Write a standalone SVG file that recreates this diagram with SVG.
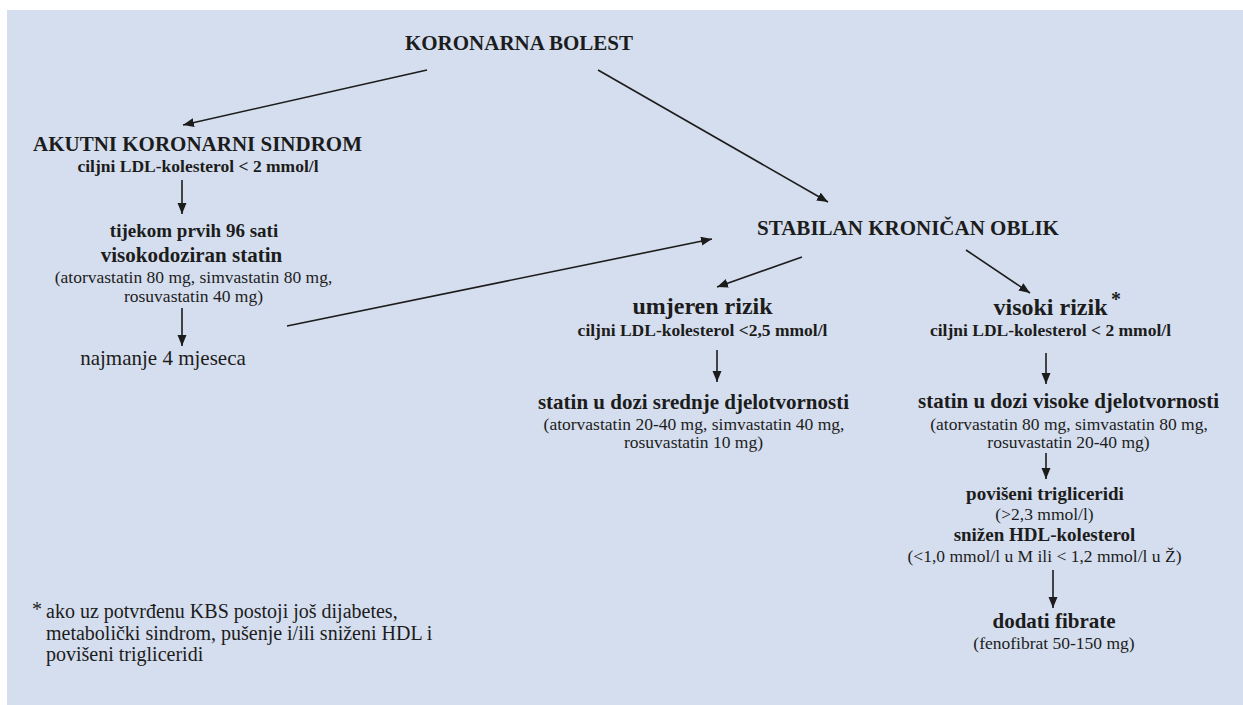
<svg xmlns="http://www.w3.org/2000/svg" width="1243" height="705" viewBox="0 0 1243 705">
  <style>
    text { font-family: "Liberation Serif", "Times New Roman", serif; fill: #1c1c1c; text-anchor: middle; }
    .b { font-weight: bold; }
    .h { font-size: 21px; font-weight: bold; }
    .hx { font-size: 24px; font-weight: bold; }
    .s { font-size: 17.5px; font-weight: bold; }
    .m { font-size: 19px; font-weight: bold; }
    .r { font-size: 17.5px; }
    .big { font-size: 21px; }
    .fn { font-size: 20px; text-anchor: start; }
    .conn line { stroke: #1c1c1c; stroke-width: 1.6; fill: none; marker-end: url(#ah); }
  </style>
  <defs>
    <marker id="ah" markerUnits="userSpaceOnUse" markerWidth="12" markerHeight="10" refX="11" refY="4.5" orient="auto">
      <path d="M0,0 L11,4.5 L0,9 z" fill="#1c1c1c"/>
    </marker>
  </defs>
  <rect x="0" y="0" width="1243" height="705" fill="#ffffff"/>
  <rect x="7" y="10" width="1236" height="695" fill="#d5deee"/>

  <g id="connectors" class="conn">
    <line x1="427" y1="70" x2="183" y2="125"/>
    <line x1="598" y1="70" x2="828" y2="202"/>
    <line x1="182" y1="180" x2="182" y2="214"/>
    <line x1="182" y1="308" x2="182" y2="346"/>
    <line x1="287" y1="326" x2="712" y2="239"/>
    <line x1="802" y1="257" x2="717" y2="287"/>
    <line x1="966" y1="250" x2="1030" y2="293"/>
    <line x1="717" y1="350" x2="717" y2="382"/>
    <line x1="1046" y1="353" x2="1046" y2="384"/>
    <line x1="1046" y1="453" x2="1046" y2="479"/>
    <line x1="1053" y1="570" x2="1053" y2="608"/>
  </g>

  <g id="koronarna-bolest">
    <text class="h" x="519" y="50">KORONARNA BOLEST</text>
  </g>

  <g id="akutni">
    <text class="h" x="197.5" y="151">AKUTNI KORONARNI SINDROM</text>
    <text class="s" x="198" y="172">ciljni LDL-kolesterol &lt; 2 mmol/l</text>
  </g>

  <g id="visokodoziran">
    <text class="m" x="194" y="237">tijekom prvih 96 sati</text>
    <text class="h" x="191.5" y="262">visokodoziran statin</text>
    <text class="r" x="193.5" y="283">(atorvastatin 80 mg, simvastatin 80 mg,</text>
    <text class="r" x="193.5" y="302">rosuvastatin 40 mg)</text>
  </g>

  <g id="najmanje">
    <text class="big" x="163" y="365">najmanje 4 mjeseca</text>
  </g>

  <g id="stabilan">
    <text class="h" x="908" y="235">STABILAN KRONIČAN OBLIK</text>
  </g>

  <g id="umjeren">
    <text class="hx" x="702.5" y="314">umjeren rizik</text>
    <text class="s" x="702.5" y="336">ciljni LDL-kolesterol &lt;2,5 mmol/l</text>
  </g>

  <g id="srednje">
    <text class="h" x="693.5" y="409">statin u dozi srednje djelotvornosti</text>
    <text class="r" x="694" y="430">(atorvastatin 20-40 mg, simvastatin 40 mg,</text>
    <text class="r" x="693.5" y="448">rosuvastatin 10 mg)</text>
  </g>

  <g id="visoki">
    <text class="hx" x="1050.5" y="315">visoki rizik</text>
    <text class="b" x="1116" y="306" style="font-size:20px">*</text>
    <text class="s" x="1050.5" y="336">ciljni LDL-kolesterol &lt; 2 mmol/l</text>
  </g>

  <g id="visoke">
    <text class="h" x="1068.5" y="408">statin u dozi visoke djelotvornosti</text>
    <text class="r" x="1069" y="430">(atorvastatin 80 mg, simvastatin 80 mg,</text>
    <text class="r" x="1068.5" y="448">rosuvastatin 20-40 mg)</text>
  </g>

  <g id="trigliceridi">
    <text class="m" x="1045" y="500">povišeni trigliceridi</text>
    <text class="r" x="1044.5" y="520">(&gt;2,3 mmol/l)</text>
    <text class="m" x="1044.5" y="541">snižen HDL-kolesterol</text>
    <text class="r" x="1044.5" y="562">(&lt;1,0 mmol/l u M ili &lt; 1,2 mmol/l u Ž)</text>
  </g>

  <g id="fibrate">
    <text class="h" x="1054" y="628">dodati fibrate</text>
    <text class="r" x="1054" y="649">(fenofibrat 50-150 mg)</text>
  </g>

  <g id="footnote">
    <text class="fn" x="32" y="616">*</text>
    <text class="fn" x="46" y="618">ako uz potvrđenu KBS postoji još dijabetes,</text>
    <text class="fn" x="46" y="640">metabolički sindrom, pušenje i/ili sniženi HDL i</text>
    <text class="fn" x="46" y="661">povišeni trigliceridi</text>
  </g>
</svg>
